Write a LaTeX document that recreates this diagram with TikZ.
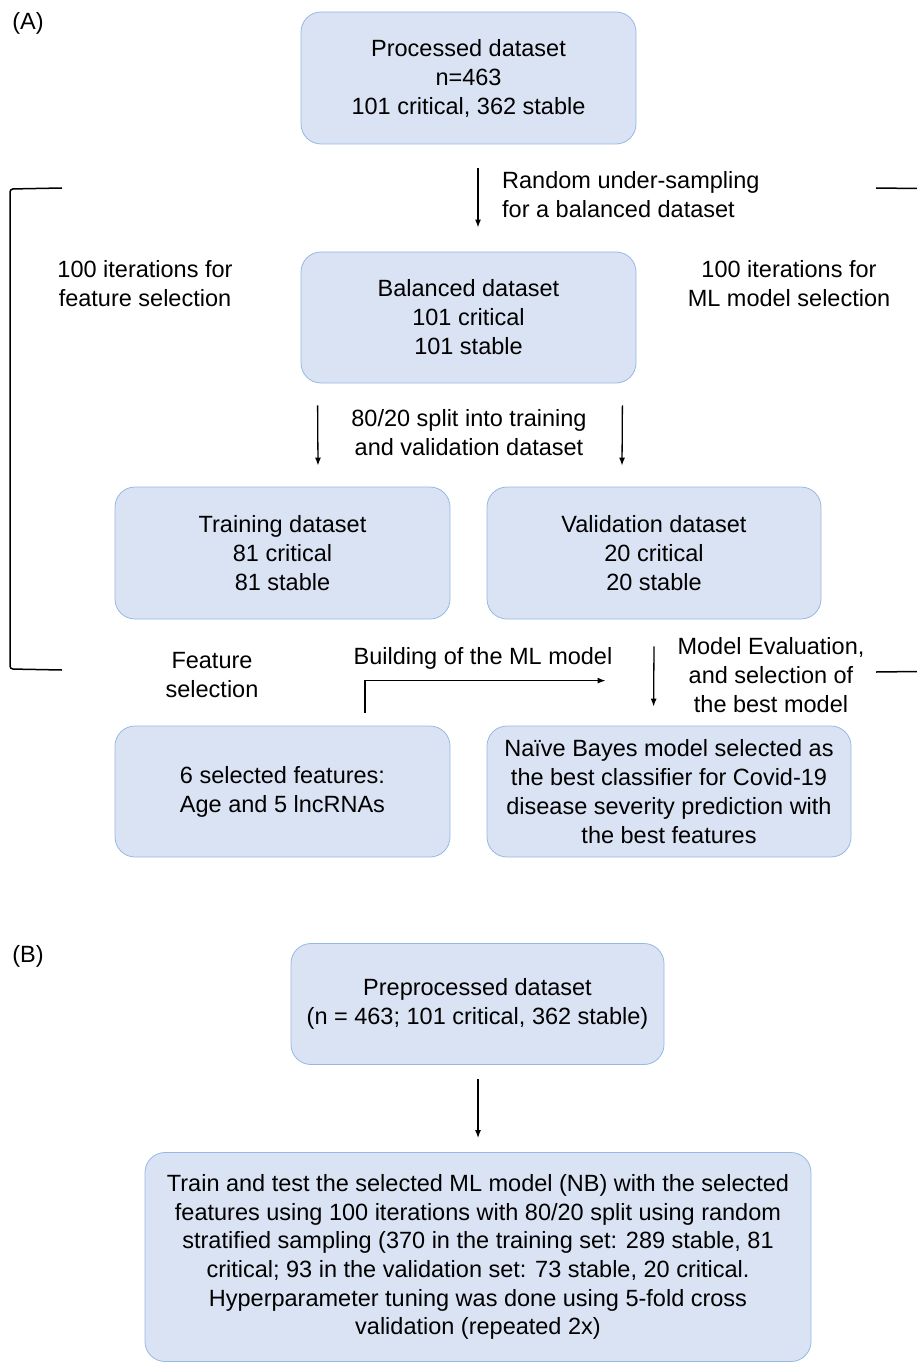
\documentclass[tikz,border=0pt]{standalone}
\usepackage{fontspec}
\setmainfont{Liberation Sans}
\usetikzlibrary{positioning,calc,arrows.meta}
\definecolor{boxfill}{RGB}{218,227,243}
\definecolor{boxline}{RGB}{150,185,228}
\tikzset{
  box/.style={draw=boxline, line width=0.8pt, fill=boxfill, rounded corners=20pt,
    align=center, inner sep=0pt},
  lbl/.style={align=center, inner sep=0pt},
  arr/.style={line width=1.3pt, -{Latex[length=8pt,width=6pt]}},
  bracket/.style={line width=1.5pt}
}
\begin{document}
\begin{tikzpicture}[x=1pt, y=-1pt, font=\fontsize{23.5}{29}\selectfont]
        \useasboundingbox (0,0) rectangle (917,1364);

        % Part (A)
        \node[lbl] (labA) at (28,23) {(A)};
        \node[box, minimum width=335pt, minimum height=132pt] (proc) at (468.5,78)
            {Processed dataset\\n=463\\101 critical, 362 stable};
        \node[box, minimum width=335pt, minimum height=131pt] (bal) at (468.5,317.5)
            {Balanced dataset\\101 critical\\101 stable};
        \node[box, minimum width=335pt, minimum height=132pt] (train) at (282.5,553)
            {Training dataset\\81 critical\\81 stable};
        \node[box, minimum width=334pt, minimum height=132pt] (valid) at (654,553)
            {Validation dataset\\20 critical\\20 stable};
        \node[box, minimum width=335pt, minimum height=131pt] (feat) at (282.5,791.5)
            {6 selected features:\\Age and 5 lncRNAs};
        \node[box, minimum width=364pt, minimum height=131pt] (nb) at (669,791.5)
            {Naïve Bayes model selected as\\the best classifier for Covid-19\\disease severity prediction with\\the best features};

        % Labels
        \node[lbl, anchor=west, align=left] (under) at (502,195) {Random under-sampling\\for a balanced dataset};
        \node[lbl] (iterfs) at (145,284) {100 iterations for\\feature selection};
        \node[lbl] (iterml) at (789,284) {100 iterations for\\ML model selection};
        \node[lbl] (split) at (469,433) {80/20 split into training\\and validation dataset};
        \node[lbl] (fslbl) at (212,675) {Feature\\selection};
        \node[lbl] (build) at (483,658) {Building of the ML model};
        \node[lbl] (evallbl) at (771,675) {Model Evaluation,\\and selection of\\the best model};

        % Arrows
        \draw[arr] ($(proc.south)+(9.5,24)$) -- ($(bal.north)+(9.5,-24)$);
        \draw[arr] ($(bal.south west)+(17,22)$) -- ($(train.north)+(35.5,-21)$);
        \draw[arr] ($(bal.south east)+(-14,22)$) -- ($(valid.north)+(-32,-21)$);
        \draw[arr] ($(feat.north)+(82.5,-13)$) |- ($(nb.north west)+(119,-45)$);
        \draw[arr] ($(valid.south)+(0,27)$) -- ($(nb.north west)+(167,-19)$);

        % Brackets
        \draw[bracket, rounded corners=3pt] (62,188) -- (10,189) -- (10,669) -- (62,670);
        \draw[bracket] (876,188) -- (917,188.5);
        \draw[bracket] (876,672) -- (917,671.5);

        % Part (B)
        \node[lbl] (labB) at (28,956) {(B)};
        \node[box, minimum width=373pt, minimum height=121pt] (pre) at (477.5,1004)
            {Preprocessed dataset\\(n = 463; 101 critical, 362 stable)};
        \node[box, minimum width=666pt, minimum height=209pt, font=\fontsize{23.5}{28.7}\selectfont] (tt) at (478,1257)
            {Train and test the selected ML model (NB) with the selected\\features using 100 iterations with 80/20 split using random\\stratified sampling (370 in the training set: 289 stable, 81\\critical; 93 in the validation set: 73 stable, 20 critical.\\Hyperparameter tuning was done using 5-fold cross\\validation (repeated 2x)};
        \draw[arr] ($(pre.south)+(0.5,14)$) -- ($(tt.north)+(0,-14)$);
    \end{tikzpicture}
\end{document}
